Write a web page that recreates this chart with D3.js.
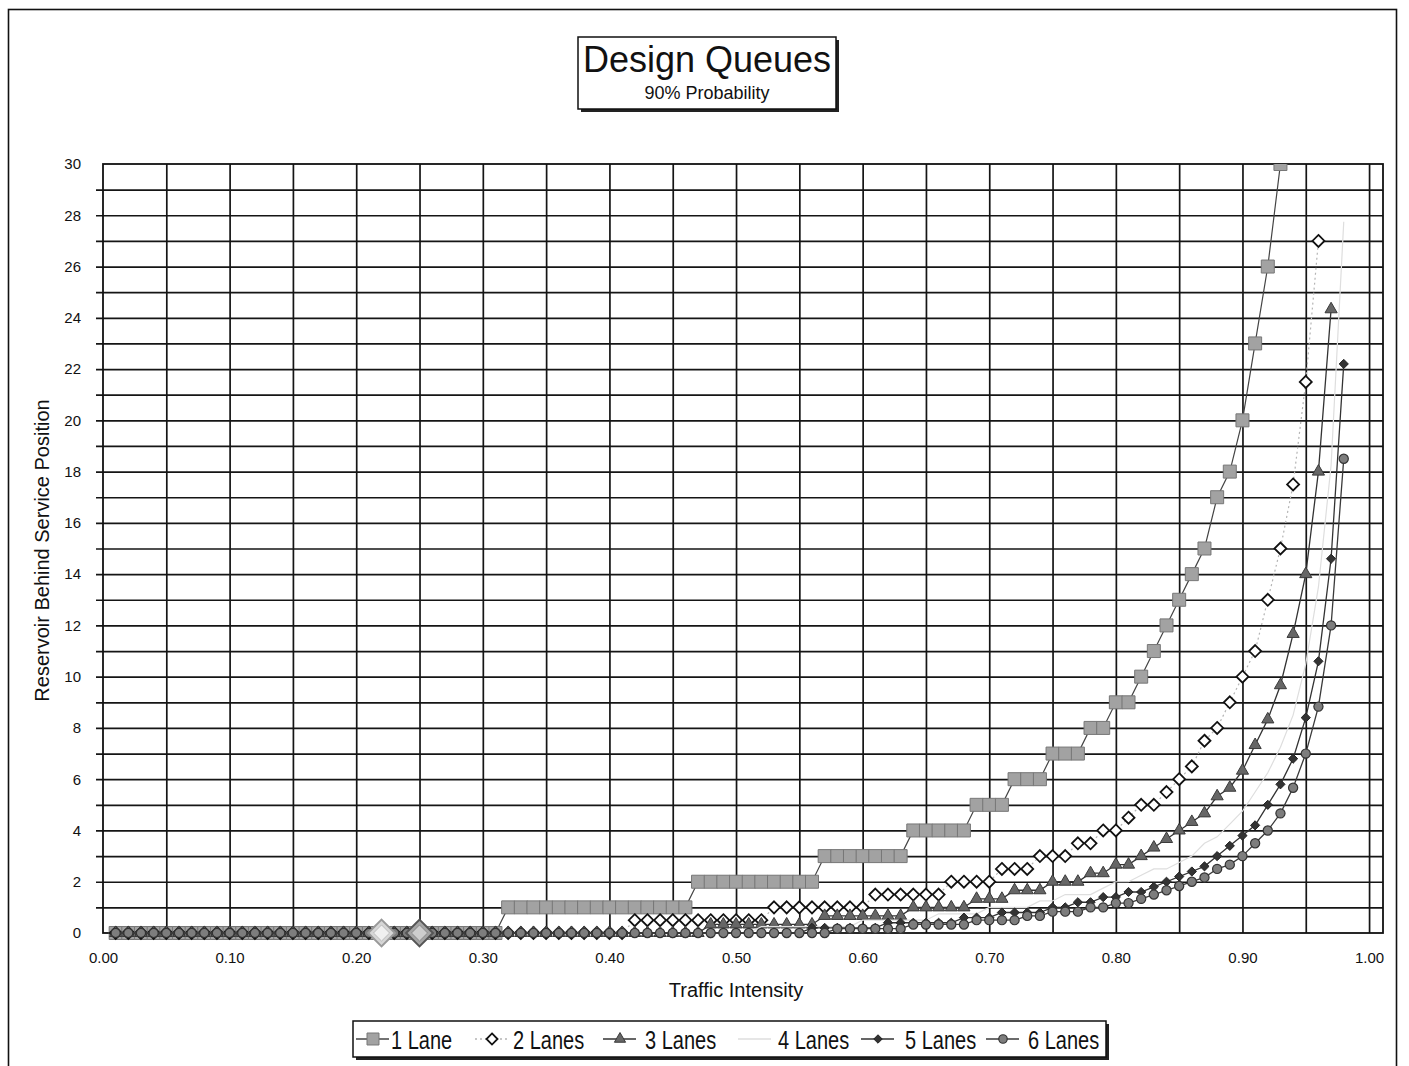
<!DOCTYPE html>
<html><head><meta charset="utf-8">
<script src="https://cdn.jsdelivr.net/npm/d3@7"></script>
<style>
body{margin:0;background:#fff}
svg{display:block}
text{font-family:"Liberation Sans",Arial,sans-serif;fill:#111}
</style>
</head><body>
<svg id="c" width="1409" height="1066"></svg>
<script>
// ---------------- data ----------------
const trafficIntensity = [
0.01,0.02,0.03,0.04,0.05,0.06,0.07,0.08,0.09,0.10,
0.11,0.12,0.13,0.14,0.15,0.16,0.17,0.18,0.19,0.20,
0.21,0.22,0.23,0.24,0.25,0.26,0.27,0.28,0.29,0.30,
0.31,0.32,0.33,0.34,0.35,0.36,0.37,0.38,0.39,0.40,
0.41,0.42,0.43,0.44,0.45,0.46,0.47,0.48,0.49,0.50,
0.51,0.52,0.53,0.54,0.55,0.56,0.57,0.58,0.59,0.60,
0.61,0.62,0.63,0.64,0.65,0.66,0.67,0.68,0.69,0.70,
0.71,0.72,0.73,0.74,0.75,0.76,0.77,0.78,0.79,0.80,
0.81,0.82,0.83,0.84,0.85,0.86,0.87,0.88,0.89,0.90,
0.91,0.92,0.93,0.94,0.95,0.96,0.97,0.98,0.99];

const lane1 = [
0,0,0,0,0,0,0,0,0,0,
0,0,0,0,0,0,0,0,0,0,
0,0,0,0,0,0,0,0,0,0,
0,1,1,1,1,1,1,1,1,1,
1,1,1,1,1,1,2,2,2,2,
2,2,2,2,2,2,3,3,3,3,
3,3,3,4,4,4,4,4,5,5,
5,6,6,6,7,7,7,8,8,9,
9,10,11,12,13,14,15,17,18,20,
23,26,30];

const lane2 = [
0,0,0,0,0,0,0,0,0,0,
0,0,0,0,0,0,0,0,0,0,
0,0,0,0,0,0,0,0,0,0,
0,0,0,0,0,0,0,0,0,0,
0,0.5,0.5,0.5,0.5,0.5,0.5,0.5,0.5,0.5,
0.5,0.5,1,1,1,1,1,1,1,1,
1.5,1.5,1.5,1.5,1.5,1.5,2,2,2,2,
2.5,2.5,2.5,3,3,3,3.5,3.5,4,4,
4.5,5,5,5.5,6,6.5,7.5,8,9,10,
11,13,15,17.5,21.5,27];

const lane3 = [
0,0,0,0,0,0,0,0,0,0,
0,0,0,0,0,0,0,0,0,0,
0,0,0,0,0,0,0,0,0,0,
0,0,0,0,0,0,0,0,0,0,
0,0,0,0,0,0,0,0.333,0.333,0.333,
0.333,0.333,0.333,0.333,0.333,0.333,0.667,0.667,0.667,0.667,
0.667,0.667,0.667,1,1,1,1,1,1.333,1.333,
1.333,1.667,1.667,1.667,2,2,2,2.333,2.333,2.667,
2.667,3,3.333,3.667,4,4.333,4.667,5.333,5.667,6.333,
7.333,8.333,9.667,11.667,14,18,24.333];

const lane4 = [
0,0,0,0,0,0,0,0,0,0,
0,0,0,0,0,0,0,0,0,0,
0,0,0,0,0,0,0,0,0,0,
0,0,0,0,0,0,0,0,0,0,
0,0,0,0,0,0,0,0,0,0,
0,0.25,0.25,0.25,0.25,0.25,0.25,0.25,0.25,0.5,
0.5,0.5,0.5,0.5,0.5,0.75,0.75,0.75,0.75,1,
1,1,1,1.25,1.25,1.5,1.5,1.5,1.75,2,
2,2.25,2.5,2.5,2.75,3,3.5,3.75,4.25,4.75,
5.5,6.25,7.25,8.5,10.5,13.5,18.25,27.75];

const lane5 = [
0,0,0,0,0,0,0,0,0,0,
0,0,0,0,0,0,0,0,0,0,
0,0,0,0,0,0,0,0,0,0,
0,0,0,0,0,0,0,0,0,0,
0,0,0,0,0,0,0,0,0,0,
0,0,0,0,0,0.2,0.2,0.2,0.2,0.2,
0.2,0.4,0.4,0.4,0.4,0.4,0.4,0.6,0.6,0.6,
0.8,0.8,0.8,0.8,1,1,1.2,1.2,1.4,1.4,
1.6,1.6,1.8,2,2.2,2.4,2.6,3,3.4,3.8,
4.2,5,5.8,6.8,8.4,10.6,14.6,22.2];

const lane6 = [
0,0,0,0,0,0,0,0,0,0,
0,0,0,0,0,0,0,0,0,0,
0,0,0,0,0,0,0,0,0,0,
0,0,0,0,0,0,0,0,0,0,
0,0,0,0,0,0,0,0,0,0,
0,0,0,0,0,0,0,0.167,0.167,0.167,
0.167,0.167,0.167,0.333,0.333,0.333,0.333,0.333,0.5,0.5,
0.5,0.5,0.667,0.667,0.833,0.833,0.833,1,1,1.167,
1.167,1.333,1.5,1.667,1.833,2,2.167,2.5,2.667,3,
3.5,4,4.667,5.667,7,8.833,12,18.5];

const seriesNames = ["1 Lane","2 Lanes","3 Lanes","4 Lanes","5 Lanes","6 Lanes"];
const highlightX = [0.22, 0.25];
const xTickValues = [0,0.1,0.2,0.3,0.4,0.5,0.6,0.7,0.8,0.9,1.0];
const yTickValues = [0,2,4,6,8,10,12,14,16,18,20,22,24,26,28,30];
const titleText = "Design Queues";
const subtitleText = "90% Probability";
const xTitle = "Traffic Intensity";
const yTitle = "Reservoir Behind Service Position";

// ---------------- layout / styles ----------------
const svg = d3.select("#c");
const P = {left:103, top:164, right:1383, bottom:933};
const x = d3.scaleLinear().domain([0, 1.011]).range([P.left, P.right]);
const y = d3.scaleLinear().domain([0, 30]).range([P.bottom, P.top]);

// regular (square-rotated) diamond symbol
const symDiamond = {draw(ctx, size){const r=Math.sqrt(size/2);
  ctx.moveTo(0,-r);ctx.lineTo(r,0);ctx.lineTo(0,r);ctx.lineTo(-r,0);ctx.closePath();}};

const styles = [
  {line:"#444", w:1.2, dash:null, sym:d3.symbolSquare, size:169, fill:"#a2a2a2", stroke:"#777", sw:1},
  {line:"#b4b4b4", w:1.2, dash:"2,3", sym:symDiamond, size:72, fill:"#fff", stroke:"#111", sw:1.8},
  {line:"#333", w:1.3, dash:null, sym:d3.symbolTriangle, size:64, fill:"#666", stroke:"#3a3a3a", sw:1},
  {line:"#dedede", w:1.2, dash:null, sym:null},
  {line:"#333", w:1.3, dash:null, sym:symDiamond, size:42, fill:"#333", stroke:"#222", sw:1},
  {line:"#3a3a3a", w:1.3, dash:null, sym:d3.symbolCircle, size:66, fill:"#7d7d7d", stroke:"#333", sw:1.2}
];
const laneData = [lane1, lane2, lane3, lane4, lane5, lane6];

// outer frame
svg.append("rect").attr("x",8.5).attr("y",9.5).attr("width",1388).attr("height",1090)
  .attr("fill","none").attr("stroke","#111").attr("stroke-width",1.6);

// gridlines via axes
const gridX = d3.range(0.05, 1.0001, 0.05);
svg.append("g").attr("transform",`translate(0,${P.bottom})`)
  .call(d3.axisBottom(x).tickValues(gridX).tickSize(-(P.bottom-P.top)).tickFormat(""))
  .call(g=>g.select(".domain").remove())
  .call(g=>g.selectAll("line").attr("stroke","#151515").attr("stroke-width",1.7));
const gridY = d3.range(1, 30, 1);
svg.append("g").attr("transform",`translate(${P.right},0)`)
  .call(d3.axisLeft(y).tickValues(gridY).tickSize(P.right-P.left+7).tickFormat(""))
  .call(g=>g.select(".domain").remove())
  .call(g=>g.selectAll("line").attr("stroke","#151515").attr("stroke-width",1.7));

// plot border
svg.append("rect").attr("x",P.left).attr("y",P.top).attr("width",P.right-P.left).attr("height",P.bottom-P.top)
  .attr("fill","none").attr("stroke","#111").attr("stroke-width",1.8);

// tick labels
svg.append("g").attr("transform",`translate(0,${P.bottom})`)
  .call(d3.axisBottom(x).tickValues(xTickValues).tickSize(0).tickPadding(19).tickFormat(d3.format(".2f")))
  .call(g=>g.select(".domain").remove())
  .call(g=>g.selectAll("text").attr("font-size",15).attr("font-family","Liberation Sans, Arial").attr("fill","#111"));
svg.append("g").attr("transform",`translate(${P.left},0)`)
  .call(d3.axisLeft(y).tickValues(yTickValues).tickSize(0).tickPadding(22).tickFormat(d3.format("d")))
  .call(g=>g.select(".domain").remove())
  .call(g=>g.selectAll("text").attr("font-size",15).attr("font-family","Liberation Sans, Arial").attr("fill","#111"));

// axis titles
svg.append("text").attr("x",(x(0)+x(1))/2).attr("y",997).attr("text-anchor","middle")
  .attr("font-size",20).text(xTitle);
svg.append("text").attr("transform",`translate(49,${(P.top+P.bottom)/2+2}) rotate(-90)`)
  .attr("text-anchor","middle").attr("font-size",20).text(yTitle);

// clip (top/right only; baseline markers are allowed to overhang)
svg.append("clipPath").attr("id","clip").append("rect")
  .attr("x",P.left-20).attr("y",P.top).attr("width",P.right-P.left+20).attr("height",P.bottom-P.top+25);
const plotG = svg.append("g").attr("clip-path","url(#clip)");

const line = d3.line().x(d=>x(d[0])).y(d=>y(d[1]));
laneData.forEach((vals,i)=>{
  const st = styles[i];
  const pts = vals.map((v,j)=>[trafficIntensity[j], v]);
  const g = plotG.append("g");
  g.append("path").datum(pts).attr("d",line).attr("fill","none")
    .attr("stroke",st.line).attr("stroke-width",st.w).attr("stroke-dasharray",st.dash);
  if(st.sym){
    g.selectAll("path.m").data(pts).enter().append("path").attr("class","m")
      .attr("transform",d=>`translate(${x(d[0])},${y(d[1])})`)
      .attr("d",d3.symbol().type(st.sym).size(st.size)())
      .attr("fill",st.fill).attr("stroke",st.stroke).attr("stroke-width",st.sw);
  }
});

// two large highlight diamonds on the baseline
const hl = plotG.selectAll("g.hl").data(highlightX).enter().append("g")
  .attr("transform",d=>`translate(${x(d)},${y(0)})`);
hl.append("path").attr("d",d3.symbol().type(symDiamond).size(360)())
  .attr("fill",(d,i)=>i===0?"#d6d6d6":"#a4a4a4").attr("stroke",(d,i)=>i===0?"#999":"#555").attr("stroke-width",2);
hl.append("path").attr("d",d3.symbol().type(symDiamond).size(130)())
  .attr("fill",(d,i)=>i===0?"#f0f0f0":"#cdcdcd").attr("stroke",(d,i)=>i===0?"#bbb":"#888").attr("stroke-width",1);

// title box
svg.append("rect").attr("x",581).attr("y",40).attr("width",258).attr("height",72).attr("fill","#222");
svg.append("rect").attr("x",578).attr("y",37).attr("width",258).attr("height",72)
  .attr("fill","#fff").attr("stroke","#111").attr("stroke-width",1.5);
svg.append("text").attr("x",707).attr("y",72).attr("text-anchor","middle").attr("font-size",36).text(titleText);
svg.append("text").attr("x",707).attr("y",99).attr("text-anchor","middle").attr("font-size",18).text(subtitleText);

// legend
const L = {x:353, y:1021, w:753, h:36};
svg.append("rect").attr("x",L.x+3).attr("y",L.y+3).attr("width",L.w).attr("height",L.h).attr("fill","#222");
svg.append("rect").attr("x",L.x).attr("y",L.y).attr("width",L.w).attr("height",L.h)
  .attr("fill","#fff").attr("stroke","#111").attr("stroke-width",1.5);
const legendMarkerX = [373, 492, 620, 755, 878, 1003];
const legendTextX = [391, 513, 645, 778, 905, 1028];
const ly = L.y + L.h/2;
seriesNames.forEach((name,i)=>{
  const st = styles[i], mx = legendMarkerX[i];
  svg.append("line").attr("x1",mx-17).attr("x2",mx+16).attr("y1",ly).attr("y2",ly)
    .attr("stroke",st.line).attr("stroke-width",st.w+0.4).attr("stroke-dasharray",st.dash);
  if(st.sym){
    svg.append("path").attr("transform",`translate(${mx},${ly})`)
      .attr("d",d3.symbol().type(st.sym).size(st.size*0.85)())
      .attr("fill",st.fill).attr("stroke",st.stroke).attr("stroke-width",st.sw);
  }
  svg.append("text").attr("transform",`translate(${legendTextX[i]},${ly+10}) scale(0.8,1)`)
    .attr("font-size",25).text(name);
});
</script>
</body></html>
